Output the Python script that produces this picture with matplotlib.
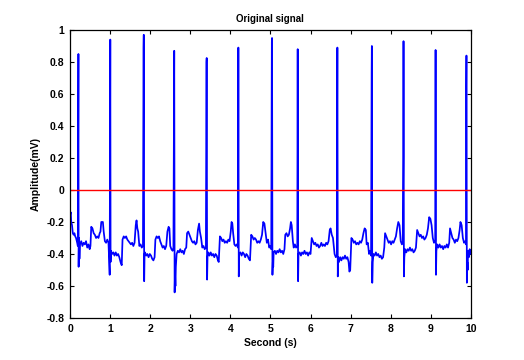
"""Original ECG signal, redrawn in MATLAB figure style."""

import matplotlib

matplotlib.use("Agg")

import matplotlib.pyplot as plt  # noqa: E402

# --- data (seconds, mV), one row per beat ---
seconds = [
    0.00, 0.01, 0.02, 0.03, 0.05, 0.07, 0.09, 0.11, 0.13, 0.15, 0.18, 0.195,
    0.205, 0.21, 0.215, 0.225, 0.235, 0.25, 0.28, 0.31, 0.34, 0.37, 0.40, 0.43, 0.46, 0.49, 0.51,
    0.53, 0.56, 0.59, 0.62, 0.65, 0.68, 0.71, 0.74, 0.76, 0.78, 0.82, 0.84, 0.87, 0.90, 0.93, 0.96, 0.99,
    1.000, 1.005, 1.012, 1.02, 1.05, 1.08, 1.11, 1.14, 1.17, 1.20, 1.23, 1.26, 1.29, 1.31, 1.34, 1.37,
    1.40, 1.43, 1.46, 1.49, 1.52, 1.55, 1.58, 1.61, 1.64, 1.66, 1.68, 1.70, 1.73, 1.76, 1.79, 1.82,
    1.835, 1.84, 1.85, 1.86, 1.87, 1.90, 1.93, 1.96, 1.99, 2.02, 2.05, 2.08, 2.11, 2.13, 2.16, 2.19,
    2.22, 2.25, 2.28, 2.31, 2.34, 2.37, 2.40, 2.43, 2.46, 2.48, 2.50, 2.53, 2.56, 2.58,
    2.595, 2.60, 2.61, 2.62, 2.63, 2.64, 2.66, 2.69, 2.72, 2.75, 2.78, 2.81, 2.84, 2.87, 2.90, 2.92,
    2.95, 2.98, 3.01, 3.04, 3.07, 3.10, 3.13, 3.16, 3.19, 3.22, 3.24, 3.27, 3.30, 3.33, 3.36, 3.39,
    3.405, 3.41, 3.42, 3.43, 3.45, 3.48, 3.51, 3.54, 3.57, 3.60, 3.63, 3.66, 3.69, 3.71, 3.74, 3.77,
    3.80, 3.83, 3.86, 3.89, 3.92, 3.95, 3.98, 4.01, 4.03, 4.05, 4.07, 4.10, 4.13, 4.16, 4.19,
    4.195, 4.20, 4.21, 4.22, 4.25, 4.28, 4.31, 4.34, 4.37, 4.40, 4.43, 4.46, 4.49, 4.52, 4.55, 4.58,
    4.61, 4.64, 4.67, 4.70, 4.73, 4.76, 4.79, 4.82, 4.85, 4.88, 4.91, 4.94, 4.97, 5.00, 5.02,
    5.035, 5.04, 5.05, 5.06, 5.07, 5.08, 5.11, 5.14, 5.17, 5.20, 5.23, 5.26, 5.29, 5.32, 5.35, 5.37,
    5.40, 5.43, 5.46, 5.49, 5.51, 5.53, 5.56, 5.58, 5.61, 5.64, 5.67,
    5.675, 5.68, 5.69, 5.70, 5.73, 5.76, 5.79, 5.82, 5.85, 5.88, 5.91, 5.94, 5.97, 6.00, 6.03, 6.06,
    6.09, 6.12, 6.15, 6.18, 6.21, 6.24, 6.27, 6.30, 6.33, 6.36, 6.39, 6.42, 6.45, 6.48, 6.50, 6.53,
    6.56, 6.60, 6.63, 6.66,
    6.665, 6.67, 6.68, 6.69, 6.71, 6.74, 6.77, 6.80, 6.83, 6.86, 6.89, 6.92, 6.95, 6.97, 6.99, 7.02,
    7.05, 7.08, 7.11, 7.14, 7.17, 7.20, 7.23, 7.26, 7.29, 7.32, 7.35, 7.38, 7.40, 7.43, 7.46, 7.49, 7.51,
    7.525, 7.53, 7.54, 7.55, 7.57, 7.60, 7.63, 7.66, 7.69, 7.72, 7.75, 7.78, 7.81, 7.84, 7.86, 7.89,
    7.92, 7.95, 7.98, 8.01, 8.04, 8.07, 8.10, 8.13, 8.16, 8.19, 8.22, 8.25, 8.28, 8.30,
    8.315, 8.32, 8.33, 8.34, 8.36, 8.39, 8.42, 8.45, 8.48, 8.51, 8.54, 8.57, 8.60, 8.63, 8.66, 8.69,
    8.72, 8.75, 8.78, 8.81, 8.84, 8.87, 8.90, 8.93, 8.96, 8.99, 9.02, 9.05, 9.08, 9.11,
    9.115, 9.12, 9.13, 9.14, 9.16, 9.19, 9.22, 9.25, 9.28, 9.31, 9.34, 9.37, 9.40, 9.43, 9.46, 9.48,
    9.51, 9.54, 9.57, 9.60, 9.63, 9.66, 9.69, 9.72, 9.74, 9.77, 9.80, 9.83, 9.86, 9.88,
    9.885, 9.89, 9.90, 9.91, 9.92, 9.93, 9.95, 9.97, 9.99, 10.0,
]
amplitude_mv = [
    -0.13, -0.15, -0.14, -0.20, -0.22, -0.27, -0.28, -0.27, -0.29, -0.30, -0.33, -0.35,
    0.49, 0.85, -0.48, -0.30, -0.43, -0.34, -0.32, -0.35, -0.33, -0.34, -0.32, -0.36, -0.34, -0.37, -0.35,
    -0.23, -0.24, -0.27, -0.28, -0.30, -0.29, -0.30, -0.27, -0.26, -0.20, -0.20, -0.26, -0.32, -0.33, -0.31, -0.33, -0.53,
    0.47, 0.94, -0.45, -0.38, -0.40, -0.39, -0.41, -0.39, -0.41, -0.40, -0.42, -0.45, -0.47, -0.31, -0.29, -0.30,
    -0.29, -0.31, -0.32, -0.33, -0.34, -0.33, -0.35, -0.33, -0.22, -0.19, -0.24, -0.26, -0.35, -0.34, -0.36, -0.35,
    0.89, 0.97, -0.57, -0.40, -0.39, -0.41, -0.40, -0.42, -0.40, -0.41, -0.43, -0.44, -0.42, -0.31, -0.29, -0.30,
    -0.29, -0.32, -0.34, -0.36, -0.35, -0.37, -0.35, -0.26, -0.23, -0.24, -0.35, -0.37, -0.38, -0.36,
    0.66, 0.87, -0.64, -0.52, -0.60, -0.48, -0.40, -0.38, -0.39, -0.37, -0.39, -0.38, -0.40, -0.37, -0.36, -0.27,
    -0.26, -0.28, -0.30, -0.32, -0.33, -0.32, -0.34, -0.33, -0.25, -0.21, -0.26, -0.30, -0.36, -0.35, -0.37, -0.36,
    0.80, 0.825, -0.56, -0.42, -0.39, -0.41, -0.39, -0.41, -0.40, -0.42, -0.40, -0.41, -0.44, -0.45, -0.29, -0.30,
    -0.32, -0.31, -0.33, -0.32, -0.33, -0.31, -0.32, -0.26, -0.20, -0.21, -0.27, -0.34, -0.35, -0.34, -0.36,
    0.44, 0.89, -0.54, -0.40, -0.39, -0.41, -0.39, -0.40, -0.42, -0.40, -0.41, -0.43, -0.44, -0.28, -0.29, -0.31,
    -0.30, -0.31, -0.33, -0.32, -0.33, -0.31, -0.28, -0.20, -0.21, -0.27, -0.33, -0.31, -0.36, -0.35, -0.37,
    0.925, 0.95, -0.53, -0.45, -0.48, -0.39, -0.38, -0.40, -0.38, -0.39, -0.37, -0.39, -0.38, -0.40, -0.37, -0.28,
    -0.27, -0.29, -0.28, -0.24, -0.20, -0.22, -0.32, -0.36, -0.34, -0.36, -0.35,
    0.23, 0.88, -0.57, -0.40, -0.39, -0.41, -0.39, -0.40, -0.38, -0.40, -0.39, -0.41, -0.39, -0.40, -0.30, -0.32,
    -0.34, -0.33, -0.35, -0.34, -0.36, -0.35, -0.33, -0.35, -0.34, -0.35, -0.33, -0.34, -0.32, -0.25, -0.24, -0.28,
    -0.30, -0.40, -0.42, -0.41,
    0.56, 0.89, -0.54, -0.42, -0.45, -0.42, -0.44, -0.42, -0.43, -0.41, -0.43, -0.42, -0.45, -0.51, -0.50, -0.30,
    -0.31, -0.33, -0.32, -0.34, -0.33, -0.34, -0.32, -0.33, -0.31, -0.27, -0.24, -0.25, -0.34, -0.33, -0.40, -0.38, -0.41,
    0.74, 0.90, -0.58, -0.45, -0.40, -0.41, -0.39, -0.41, -0.40, -0.42, -0.41, -0.43, -0.42, -0.36, -0.27, -0.29,
    -0.31, -0.33, -0.32, -0.34, -0.32, -0.33, -0.31, -0.29, -0.24, -0.20, -0.22, -0.32, -0.34, -0.33,
    0.21, 0.93, -0.54, -0.42, -0.37, -0.39, -0.37, -0.38, -0.36, -0.38, -0.37, -0.39, -0.38, -0.36, -0.25, -0.27,
    -0.29, -0.28, -0.30, -0.29, -0.31, -0.30, -0.28, -0.24, -0.17, -0.18, -0.22, -0.30, -0.33, -0.32,
    0.49, 0.875, -0.53, -0.38, -0.34, -0.36, -0.34, -0.36, -0.35, -0.37, -0.35, -0.36, -0.34, -0.36, -0.33, -0.24,
    -0.27, -0.30, -0.31, -0.33, -0.31, -0.32, -0.30, -0.25, -0.20, -0.22, -0.30, -0.33, -0.32, -0.34,
    0.65, 0.84, -0.58, -0.45, -0.50, -0.38, -0.42, -0.37, -0.40, -0.39,
]

x_ticks = [0, 1, 2, 3, 4, 5, 6, 7, 8, 9, 10]
y_ticks = [-0.8, -0.6, -0.4, -0.2, 0, 0.2, 0.4, 0.6, 0.8, 1]
y_tick_labels = ["-0.8", "-0.6", "-0.4", "-0.2", "0", "0.2", "0.4", "0.6", "0.8", "1"]

plt.rcParams["font.family"] = ["Liberation Sans", "DejaVu Sans"]

fig = plt.figure(figsize=(5.24, 3.60), dpi=100)
ax = fig.add_axes([0.1336, 0.1167, 0.765, 0.8])

ax.plot(seconds, amplitude_mv, color="#0000ff", lw=1.25)
ax.axhline(0, color="#ff0000", lw=1.0)

ax.set_xlim(0, 10)
ax.set_ylim(-0.8, 1)
ax.set_xticks(x_ticks)
ax.set_xticklabels([str(t) for t in x_ticks])
ax.set_yticks(y_ticks)
ax.set_yticklabels(y_tick_labels)
ax.tick_params(direction="in", length=3, width=0.8, top=True, right=True,
               labelsize=7.5, pad=4)
for lbl in ax.get_xticklabels() + ax.get_yticklabels():
    lbl.set_fontweight("bold")
for sp in ax.spines.values():
    sp.set_linewidth(0.9)

ax.set_title("Original signal", fontsize=7, fontweight="bold", pad=6)
ax.set_xlabel("Second (s)", fontsize=7.5, fontweight="bold", labelpad=3)
ax.set_ylabel("Amplitude(mV)", fontsize=7.5, fontweight="bold", labelpad=4)

fig.savefig("out.png", dpi=100)
plt.close(fig)
